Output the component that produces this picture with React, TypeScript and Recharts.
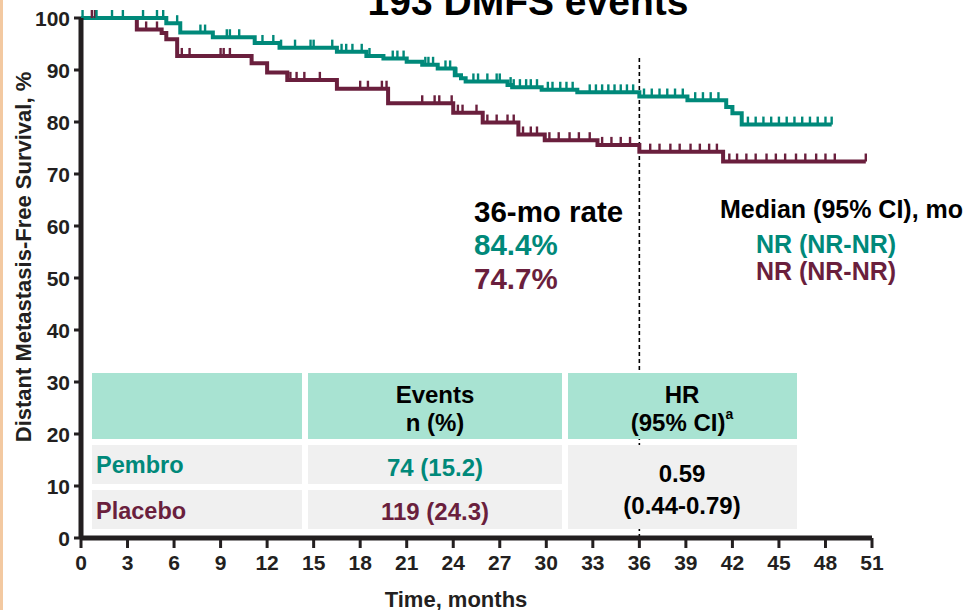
import React from 'react';
import { ComposedChart, Line, XAxis, YAxis, ReferenceLine } from 'recharts';

// ---- Data ----
const xTicks = [0, 3, 6, 9, 12, 15, 18, 21, 24, 27, 30, 33, 36, 39, 42, 45, 48, 51];
const yTicks = [0, 10, 20, 30, 40, 50, 60, 70, 80, 90, 100];

const pembroTimes = [0, 5.5, 6.4, 8.5, 11.2, 12.8, 16.5, 18.4, 19.5, 21.0, 22.0, 23.0, 24.1, 24.5, 24.8, 27.5, 27.8, 29.7, 32.0, 36.0, 39.1, 41.6, 42.0, 42.6, 48.4];
const pembroSurv = [100, 99.0, 97.2, 96.3, 95.2, 94.3, 93.5, 92.7, 92.2, 91.6, 91.0, 90.3, 89.0, 88.4, 87.8, 87.1, 86.7, 86.2, 85.7, 84.9, 84.2, 82.9, 81.7, 79.5, 79.5];
const pembroCensor = [0.1, 1.0, 2.0, 2.7, 4.0, 4.9, 5.3, 6.2, 7.7, 8.0, 9.4, 9.6, 10.2, 11.7, 12.4, 12.9, 13.8, 14.8, 15.0, 16.2, 16.8, 17.1, 17.5, 18.1, 18.6, 20.1, 20.4, 20.8, 22.2, 22.4, 22.7, 23.5, 23.8, 24.2, 25.3, 25.6, 26.2, 26.8, 27.0, 27.7, 27.9, 28.3, 28.7, 29.0, 29.4, 30.1, 30.4, 30.9, 31.3, 31.7, 32.8, 33.2, 33.6, 34.0, 34.4, 34.8, 35.2, 35.6, 36.3, 36.8, 37.3, 37.8, 38.3, 38.8, 39.6, 40.1, 40.6, 41.1, 43.0, 43.5, 44.0, 44.5, 45.0, 45.5, 46.0, 46.5, 47.0, 47.5, 48.0, 48.4];

const placeboTimes = [0, 3.6, 5.2, 5.5, 6.2, 11.0, 12.0, 13.3, 16.5, 19.8, 24.0, 25.9, 28.2, 29.9, 33.3, 36.0, 41.4, 50.6];
const placeboSurv = [100, 97.8, 97.1, 95.9, 92.7, 91.3, 89.5, 88.1, 86.4, 83.6, 81.8, 79.9, 77.6, 76.5, 75.6, 74.3, 72.4, 72.4];
const placeboCensor = [0.7, 0.9, 4.2, 4.9, 6.5, 7.0, 9.0, 9.2, 9.6, 13.5, 13.9, 14.4, 15.4, 18.0, 18.5, 19.4, 19.7, 22.0, 22.8, 23.1, 23.9, 24.3, 24.6, 25.5, 26.2, 26.8, 27.5, 27.9, 28.5, 29.0, 29.4, 30.2, 30.8, 31.5, 32.1, 32.8, 33.6, 34.2, 34.8, 35.4, 36.7, 37.3, 38.0, 38.6, 39.3, 39.9, 40.5, 41.0, 41.8, 42.3, 42.9, 43.5, 44.2, 44.8, 45.4, 46.1, 46.7, 47.4, 48.0, 48.6, 50.6];

const groups = ['Pembro', 'Placebo'];
const events = ['74 (15.2)', '119 (24.3)'];
const hrValue = '0.59';
const hrCI = '(0.44-0.79)';
const rates36 = ['84.4%', '74.7%'];
const medians = ['NR (NR-NR)', 'NR (NR-NR)'];
const titleText = '193 DMFS events';

const TEAL = '#00897A';
const MAROON = '#6A1F3D';
const AXIS = '#231F20';
const FONT = '"Liberation Sans", Arial, Helvetica, sans-serif';

function levelAt(times: number[], surv: number[], t: number) {
  let v = surv[0];
  for (let i = 0; i < times.length; i++) {
    if (times[i] <= t) v = surv[i];
  }
  return v;
}

function buildSeries(times: number[], surv: number[], censor: number[]) {
  const pts: { t: number; s: number; c: boolean }[] = times.map((t, i) => ({ t, s: surv[i], c: false }));
  censor.forEach((t) => {
    const existing = pts.find((p) => p.t === t);
    if (existing) existing.c = true;
    else pts.push({ t, s: levelAt(times, surv, t), c: true });
  });
  pts.sort((a, b) => a.t - b.t);
  return pts;
}

const pembroData = buildSeries(pembroTimes, pembroSurv, pembroCensor);
const placeboData = buildSeries(placeboTimes, placeboSurv, placeboCensor);

const makeCensorDot = (color: string) => (props: any) => {
  const { cx, cy, payload, index } = props;
  if (!payload || !payload.c || cx == null || cy == null) return <g key={`d${index}`} />;
  return <line key={`d${index}`} x1={cx} x2={cx} y1={cy} y2={cy - 8} stroke={color} strokeWidth={2.4} />;
};

const XTick = (p: any) => (
  <text x={p.x} y={p.y + 14} textAnchor="middle" dominantBaseline="central" fontFamily={FONT} fontWeight={700} fontSize={21} fill={AXIS}>
    {p.payload.value}
  </text>
);
const YTick = (p: any) => (
  <text x={p.x} y={p.y} textAnchor="end" dominantBaseline="central" fontFamily={FONT} fontWeight={700} fontSize={21} fill={AXIS}>
    {p.payload.value}
  </text>
);

export default function App() {
  const bold = { fontFamily: FONT, fontWeight: 700 } as const;
  return (
    <div style={{ position: 'absolute', left: 0, top: 0, width: 969, height: 610, background: '#fff', overflow: 'hidden' }}>
      <ComposedChart width={969} height={610} margin={{ top: 18, right: 97, bottom: 42, left: 21 }}>
        <XAxis
          type="number"
          dataKey="t"
          domain={[0, 51]}
          ticks={xTicks}
          interval={0}
          height={30}
          tickSize={10}
          tickMargin={0}
          axisLine={{ stroke: AXIS, strokeWidth: 5 }}
          tickLine={{ stroke: AXIS, strokeWidth: 3 }}
          tick={<XTick />}
        />
        <YAxis
          type="number"
          domain={[0, 100]}
          ticks={yTicks}
          interval={0}
          width={60}
          tickSize={7}
          tickMargin={4}
          axisLine={{ stroke: AXIS, strokeWidth: 5 }}
          tickLine={{ stroke: AXIS, strokeWidth: 3 }}
          tick={<YTick />}
        />
        <ReferenceLine segment={[{ x: 36, y: 0 }, { x: 36, y: 92.3 }]} stroke="#000" strokeWidth={1.6} strokeDasharray="4 3" />
        <Line data={placeboData} dataKey="s" type="stepAfter" stroke={MAROON} strokeWidth={4} dot={makeCensorDot(MAROON)} activeDot={false} isAnimationActive={false} />
        <Line data={pembroData} dataKey="s" type="stepAfter" stroke={TEAL} strokeWidth={4} dot={makeCensorDot(TEAL)} activeDot={false} isAnimationActive={false} />
      </ComposedChart>

      <svg width={969} height={610} style={{ position: 'absolute', left: 0, top: 0, pointerEvents: 'none' }}>
        <rect x={0} y={0} width={3} height={610} fill="#F3C9A1" />
        <text x={528} y={15} textAnchor="middle" {...bold} fontSize={39} fill="#000">{titleText}</text>

        <text transform="translate(31,257) rotate(-90)" textAnchor="middle" {...bold} fontSize={22} fill={AXIS}>
          Distant Metastasis-Free Survival, %
        </text>
        <text x={456} y={599} textAnchor="middle" dominantBaseline="central" {...bold} fontSize={22} fill={AXIS}>Time, months</text>

        <text x={474} y={211} dominantBaseline="central" {...bold} fontSize={29.5} fill="#000">36-mo rate</text>
        <text x={474} y={244} dominantBaseline="central" {...bold} fontSize={29.5} fill={TEAL}>{rates36[0]}</text>
        <text x={474} y={278} dominantBaseline="central" {...bold} fontSize={29.5} fill={MAROON}>{rates36[1]}</text>

        <text x={720} y={209} dominantBaseline="central" {...bold} fontSize={25} fill="#000">Median (95% CI), mo</text>
        <text x={826} y={244} textAnchor="middle" dominantBaseline="central" {...bold} fontSize={25} fill={TEAL}>{medians[0]}</text>
        <text x={826} y={271} textAnchor="middle" dominantBaseline="central" {...bold} fontSize={25} fill={MAROON}>{medians[1]}</text>

        {/* table */}
        <rect x={92} y={373} width={210} height={66} fill="#A8E3D2" />
        <rect x={308} y={373} width={254} height={66} fill="#A8E3D2" />
        <rect x={568} y={373} width={229} height={66} fill="#A8E3D2" />
        <rect x={92} y={445} width={210} height={39} fill="#F0F0F0" />
        <rect x={308} y={445} width={254} height={39} fill="#F0F0F0" />
        <rect x={92} y={490} width={210} height={39} fill="#F0F0F0" />
        <rect x={308} y={490} width={254} height={39} fill="#F0F0F0" />
        <rect x={568} y={445} width={229} height={84} fill="#F0F0F0" />

        <text x={435} y={394} textAnchor="middle" dominantBaseline="central" {...bold} fontSize={24} fill="#000">Events</text>
        <text x={435} y={422} textAnchor="middle" dominantBaseline="central" {...bold} fontSize={24} fill="#000">n (%)</text>
        <text x={682} y={394} textAnchor="middle" dominantBaseline="central" {...bold} fontSize={24} fill="#000">HR</text>
        <text x={682} y={422} textAnchor="middle" dominantBaseline="central" {...bold} fontSize={24} fill="#000">
          (95% CI)<tspan fontSize={14} dy={-8}>a</tspan>
        </text>

        <text x={96} y={465} dominantBaseline="central" {...bold} fontSize={23.5} fill={TEAL}>{groups[0]}</text>
        <text x={96} y={511} dominantBaseline="central" {...bold} fontSize={23.5} fill={MAROON}>{groups[1]}</text>
        <text x={435} y={467} textAnchor="middle" dominantBaseline="central" {...bold} fontSize={24} fill={TEAL}>{events[0]}</text>
        <text x={435} y={511} textAnchor="middle" dominantBaseline="central" {...bold} fontSize={24} fill={MAROON}>{events[1]}</text>
        <text x={682} y={473} textAnchor="middle" dominantBaseline="central" {...bold} fontSize={24} fill="#000">{hrValue}</text>
        <text x={682} y={505} textAnchor="middle" dominantBaseline="central" {...bold} fontSize={24} fill="#000">{hrCI}</text>
      </svg>
    </div>
  );
}
